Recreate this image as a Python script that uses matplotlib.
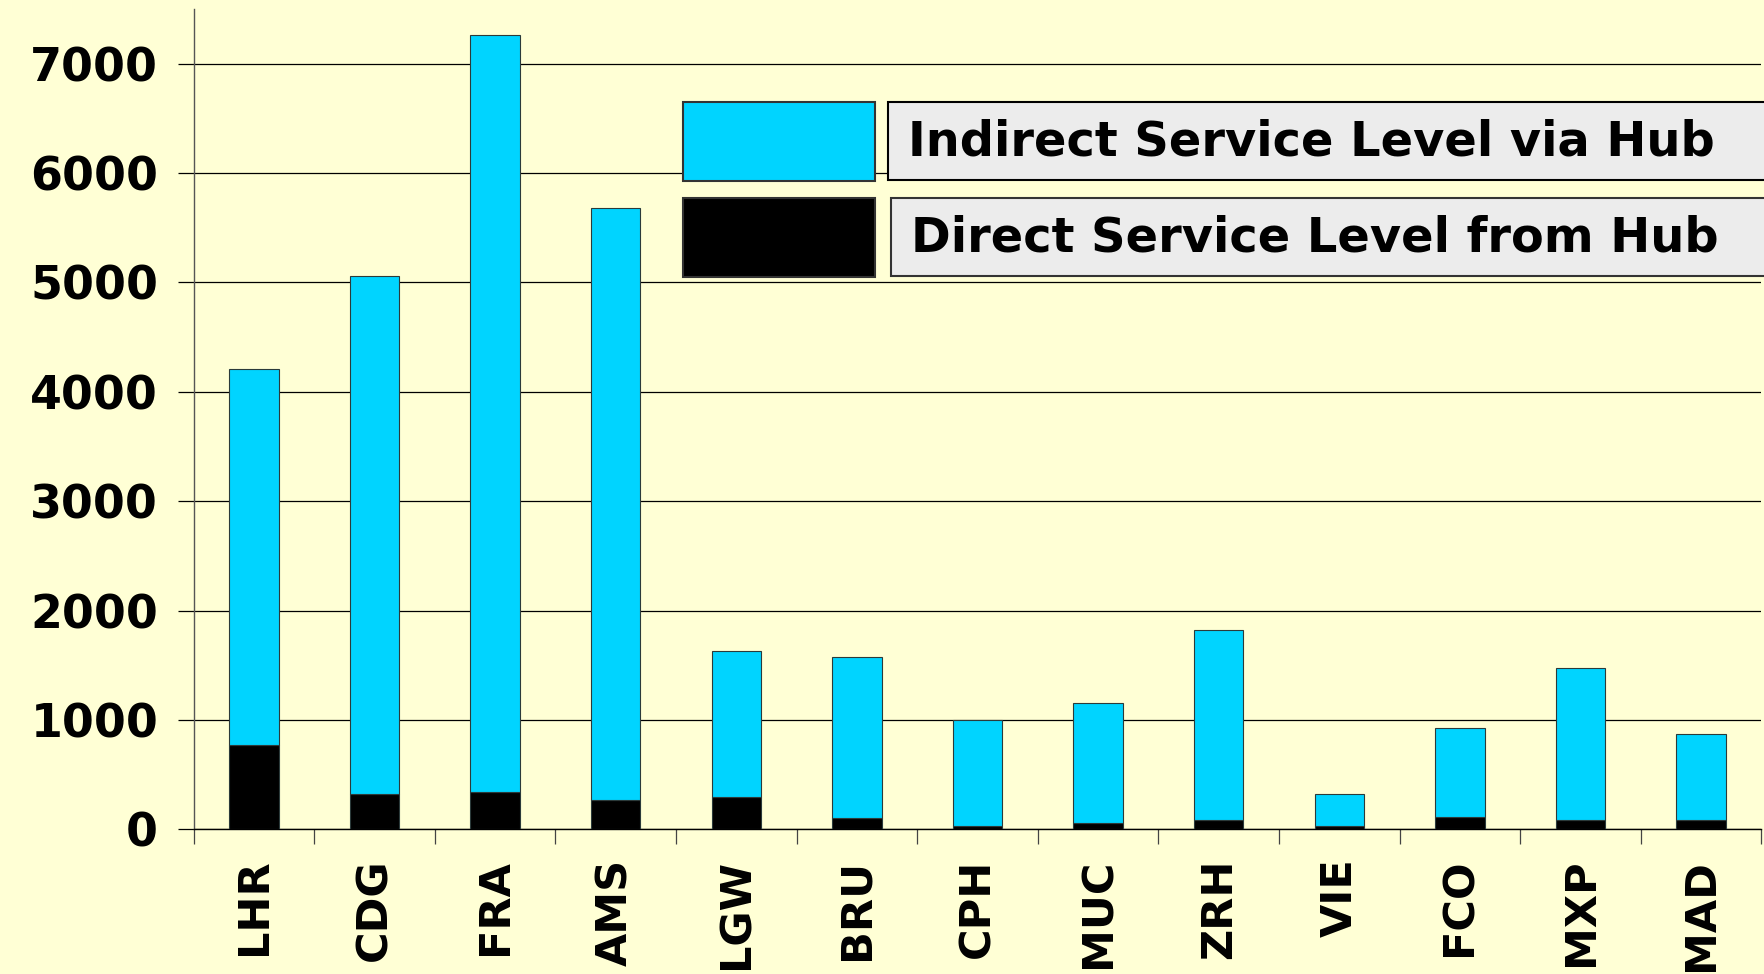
import numpy as np
import matplotlib
matplotlib.use("Agg")
import matplotlib.pyplot as plt
from matplotlib.patches import Rectangle

# ── Data ───────────────────────────────────────────────────────────────────────
airports = ["LHR", "CDG", "FRA", "AMS", "LGW", "BRU", "CPH",
            "MUC", "ZRH", "VIE", "FCO", "MXP", "MAD"]
direct   = [770, 320, 345, 270, 295, 105, 30, 60, 85, 30, 110, 85, 85]
indirect = [3440, 4735, 6920, 5415, 1340, 1475, 970, 1100, 1735, 290, 815, 1390, 790]
y_ticks  = [0, 1000, 2000, 3000, 4000, 5000, 6000, 7000]

label_indirect = "Indirect Service Level via Hub"
label_direct   = "Direct Service Level from Hub"

# ── Style ──────────────────────────────────────────────────────────────────────
BG     = "#FFFFD5"
CYAN   = "#00D4FF"
EDGE   = "#2b3a3a"
BOXBG  = "#ECECEC"
FONT   = "DejaVu Sans"

fig = plt.figure(figsize=(17.65, 9.74), dpi=100, facecolor=BG)
ax = fig.add_axes([0.1097, 0.1484, 0.8883, 0.8424])
ax.set_facecolor(BG)

x = np.arange(len(airports))
width = 0.41
ax.bar(x, direct, width, color="black", edgecolor=EDGE, linewidth=0.8, zorder=3)
ax.bar(x, indirect, width, bottom=direct, color=CYAN, edgecolor=EDGE,
       linewidth=0.8, zorder=3)

ax.set_xlim(-0.5, len(airports) - 0.5)
ax.set_ylim(0, 7500)
ax.set_yticks(y_ticks)
ax.set_yticklabels([str(v) for v in y_ticks], fontsize=33, fontweight="bold",
                   family=FONT)
ax.yaxis.grid(True, color="black", linewidth=0.9, zorder=0)
ax.set_axisbelow(True)

# category labels at bar centres, tick marks at category boundaries
ax.set_xticks(x)
ax.set_xticklabels(airports, rotation=90, fontsize=31, fontweight="bold",
                   family=FONT)
ax.set_xticks(np.arange(-0.5, len(airports)), minor=True)
ax.tick_params(axis="x", which="major", length=0, pad=21)
ax.tick_params(axis="x", which="minor", length=11, width=0.9, color="#444444")
ax.tick_params(axis="y", length=11.5, width=0.9, pad=14, color="black")

for side in ["top", "right"]:
    ax.spines[side].set_visible(False)
ax.spines["left"].set_color("#555555")
ax.spines["left"].set_linewidth(1.0)
ax.spines["bottom"].set_color("black")
ax.spines["bottom"].set_linewidth(1.0)

# ── Legend built from boxes (as in the original slide) ─────────────────────────
W, H = 1765.0, 974.0

def fig_rect(x0, y0, x1, y1, **kw):
    r = Rectangle((x0 / W, 1 - y1 / H), (x1 - x0) / W, (y1 - y0) / H,
                  transform=fig.transFigure, **kw)
    fig.patches.append(r)

fig_rect(683, 102, 875, 181, facecolor=CYAN, edgecolor="#333333", linewidth=1.5, zorder=5)
fig_rect(683, 198, 875, 277, facecolor="black", edgecolor="#333333", linewidth=1.5, zorder=5)
fig_rect(888, 102, 1790, 180, facecolor=BOXBG, edgecolor="black", linewidth=1.5, zorder=5)
fig_rect(891, 198, 1790, 276, facecolor=BOXBG, edgecolor="#333333", linewidth=1.5, zorder=5)

fig.text(908 / W, 1 - 142 / H, label_indirect, fontsize=34.5, fontweight="bold",
         family=FONT, va="center", ha="left", zorder=6)
fig.text(911 / W, 1 - 238 / H, label_direct, fontsize=34.5, fontweight="bold",
         family=FONT, va="center", ha="left", zorder=6)

fig.savefig("out.png", dpi=100, facecolor=BG)
